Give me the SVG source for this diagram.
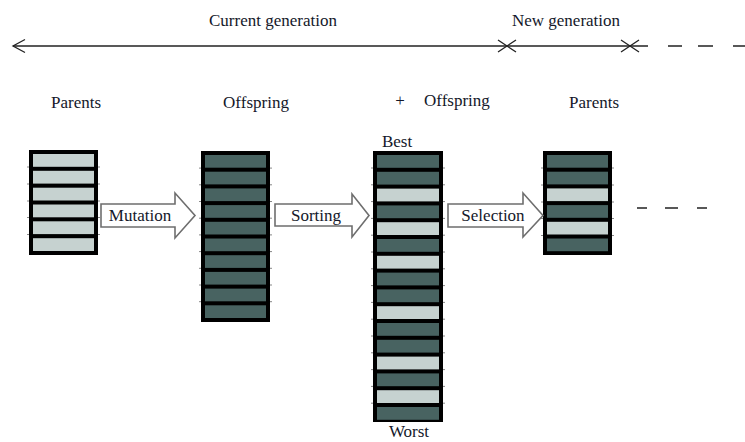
<svg xmlns="http://www.w3.org/2000/svg" width="745" height="442" viewBox="0 0 745 442">
<style>
text{font-size:17px;fill:#14182a}
.frame{fill:#000}
.L{fill:#c6d2d0}
.D{fill:#486361}
.tick{stroke:#888;stroke-width:1}
.blk{fill:#fff;stroke:#6e6e6e;stroke-width:1.6;stroke-linejoin:miter}
.tl{stroke:#222;stroke-width:1.3;fill:none}
</style>
<rect width="745" height="442" fill="#fff"/>
<g font-family="'Liberation Serif', 'Times New Roman', 'DejaVu Serif', serif">
<g id="timeline">
<text x="273" y="26" text-anchor="middle">Current generation</text>
<text x="566" y="26" text-anchor="middle">New generation</text>
<line class="tl" x1="13" y1="46" x2="648" y2="46"/>
<polyline class="tl" points="25,39.5 13,46 25,52.5"/>
<path class="tl" d="M498,40 L516,52 M498,52 L516,40 M621,40 L639,52 M621,52 L639,40"/>
<path class="tl" d="M668,46 H682 M698,46 H713 M733,46 H745"/>
</g>
<g id="parents">
<text x="76" y="108" text-anchor="middle">Parents</text>
<path class="tick" d="M27,167 H100 M27,184 H100 M27,201 H100 M27,217.5 H100 M27,234.5 H100"/>
<rect class="frame" x="29" y="150" width="69" height="105"/>
<rect class="L" x="33" y="154" width="61" height="12.8"/>
<rect class="L" x="33" y="170.8" width="61" height="12.8"/>
<rect class="L" x="33" y="187.7" width="61" height="12.8"/>
<rect class="L" x="33" y="204.5" width="61" height="12.8"/>
<rect class="L" x="33" y="221.3" width="61" height="12.8"/>
<rect class="L" x="33" y="238.2" width="61" height="12.8"/>
</g>
<g id="offspring">
<text x="256" y="108" text-anchor="middle">Offspring</text>
<path class="tick" d="M199,168.1 H272 M199,184.8 H272 M199,201.5 H272 M199,218.2 H272 M199,234.9 H272 M199,251.6 H272 M199,268.3 H272 M199,285 H272 M199,301.7 H272"/>
<rect class="frame" x="201" y="151" width="69" height="171"/>
<rect class="D" x="205" y="155" width="61" height="12.7"/>
<rect class="D" x="205" y="171.7" width="61" height="12.7"/>
<rect class="D" x="205" y="188.4" width="61" height="12.7"/>
<rect class="D" x="205" y="205.1" width="61" height="12.7"/>
<rect class="D" x="205" y="221.8" width="61" height="12.7"/>
<rect class="D" x="205" y="238.5" width="61" height="12.7"/>
<rect class="D" x="205" y="255.2" width="61" height="12.7"/>
<rect class="D" x="205" y="271.9" width="61" height="12.7"/>
<rect class="D" x="205" y="288.6" width="61" height="12.7"/>
<rect class="D" x="205" y="305.3" width="61" height="12.7"/>
</g>
<g id="combined">
<text x="400" y="106" text-anchor="middle">+</text>
<text x="424" y="106">Offspring</text>
<text x="397" y="147" text-anchor="middle">Best</text>
<text x="409" y="437" text-anchor="middle">Worst</text>
<path class="tick" d="M371,168 H445 M371,184.8 H445 M371,201.6 H445 M371,218.4 H445 M371,235.2 H445 M371,252 H445 M371,268.8 H445 M371,285.6 H445 M371,302.4 H445 M371,319.2 H445 M371,336 H445 M371,352.8 H445 M371,369.6 H445 M371,386.4 H445 M371,403.2 H445"/>
<rect class="frame" x="373" y="151" width="70" height="271"/>
<rect class="D" x="377" y="155" width="62" height="12.8"/>
<rect class="D" x="377" y="171.8" width="62" height="12.8"/>
<rect class="L" x="377" y="188.6" width="62" height="12.8"/>
<rect class="D" x="377" y="205.4" width="62" height="12.8"/>
<rect class="L" x="377" y="222.2" width="62" height="12.8"/>
<rect class="D" x="377" y="239" width="62" height="12.8"/>
<rect class="L" x="377" y="255.8" width="62" height="12.8"/>
<rect class="D" x="377" y="272.6" width="62" height="12.8"/>
<rect class="D" x="377" y="289.4" width="62" height="12.8"/>
<rect class="L" x="377" y="306.2" width="62" height="12.8"/>
<rect class="D" x="377" y="323" width="62" height="12.8"/>
<rect class="D" x="377" y="339.8" width="62" height="12.8"/>
<rect class="L" x="377" y="356.6" width="62" height="12.8"/>
<rect class="D" x="377" y="373.4" width="62" height="12.8"/>
<rect class="L" x="377" y="390.2" width="62" height="12.8"/>
<rect class="D" x="377" y="407" width="62" height="12.8"/>
</g>
<g id="new-parents">
<text x="594" y="108" text-anchor="middle">Parents</text>
<path class="tick" d="M541,168 H614 M541,185 H614 M541,202 H614 M541,218.5 H614 M541,235.5 H614"/>
<rect class="frame" x="543" y="151" width="69" height="104"/>
<rect class="D" x="547" y="155" width="61" height="12.7"/>
<rect class="D" x="547" y="171.7" width="61" height="12.7"/>
<rect class="L" x="547" y="188.4" width="61" height="12.7"/>
<rect class="D" x="547" y="205.1" width="61" height="12.7"/>
<rect class="L" x="547" y="221.8" width="61" height="12.7"/>
<rect class="D" x="547" y="238.5" width="61" height="12.7"/>
</g>
<g id="connectors">
<polygon class="blk" points="101,204 175,204 175,193 195,215.5 175,238 175,227 101,227"/>
<text x="140" y="221" text-anchor="middle">Mutation</text>
<polygon class="blk" points="275,204 352,204 352,194 369,215.5 352,237 352,226 275,226"/>
<text x="316" y="221" text-anchor="middle">Sorting</text>
<polygon class="blk" points="448,204 523,204 523,193 543,215.5 523,237 523,227 448,227"/>
<text x="493" y="221" text-anchor="middle">Selection</text>
<path class="tl" d="M637,208 H647 M665,208 H678 M697,208 H707"/>
</g>
</g>
</svg>
